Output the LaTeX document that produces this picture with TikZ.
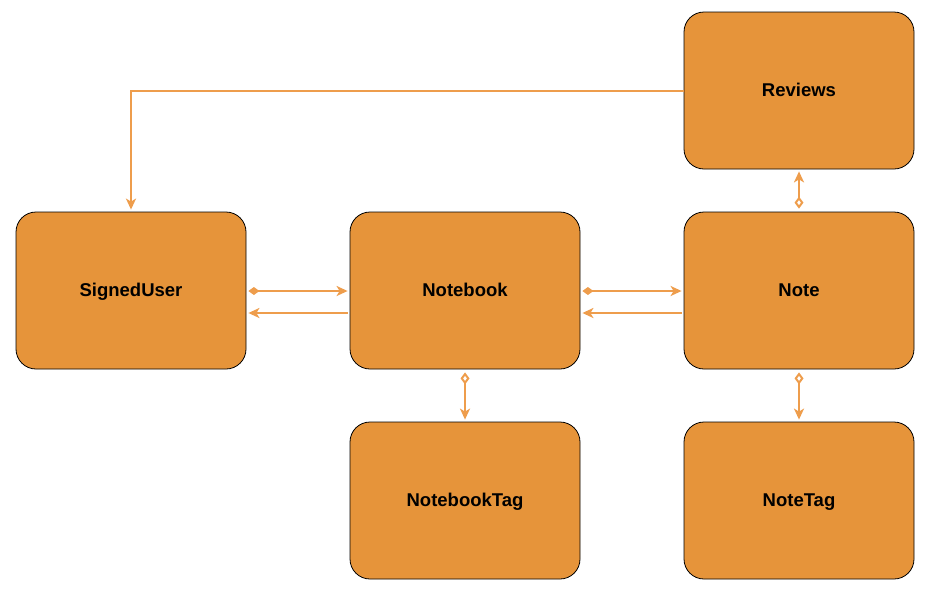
\documentclass[tikz,border=0pt]{standalone}
\usepackage{fontspec}
\setmainfont{Liberation Sans}
\usetikzlibrary{arrows.meta}
\definecolor{boxfill}{HTML}{E6943A}
\definecolor{linec}{HTML}{EE9D4C}
\begin{document}
\begin{tikzpicture}[x=1pt,y=-1pt,
  entity/.style={draw=black, line width=0.8pt, fill=boxfill, rounded corners=20pt,
    minimum width=230pt, minimum height=157pt, inner sep=0pt,
    text height=12.5pt, text depth=0pt,
    font=\fontsize{18.5}{22}\selectfont\bfseries},
  conn/.style={draw=linec, line width=2pt},
  tipA/.style={-{Stealth[length=11pt,width=10pt,inset=3pt]}},
  tipDA/.style={{Diamond[length=11pt,width=8pt]}-{Stealth[length=11pt,width=10pt,inset=3pt]}},
  tipOA/.style={{Diamond[open,length=12pt,width=9pt]}-{Stealth[length=11pt,width=10pt,inset=3pt]}}
]
\useasboundingbox (0,0) rectangle (949,603);
\node[entity] (signed) at (131,290.5) {SignedUser};
\node[entity] (notebook) at (465,290.5) {Notebook};
\node[entity] (note) at (799,290.5) {Note};
\node[entity] (reviews) at (799,90.5) {Reviews};
\node[entity] (nbtag) at (465,500.5) {NotebookTag};
\node[entity] (notetag) at (799,500.5) {NoteTag};

\draw[conn,tipDA] ([yshift=-0.5pt,xshift=2pt]signed.east) -- ([yshift=-0.5pt,xshift=-2pt]notebook.west);
\draw[conn,tipA] ([yshift=-22.5pt,xshift=-2pt]notebook.west) -- ([yshift=-22.5pt,xshift=2pt]signed.east);
\draw[conn,tipDA] ([yshift=-0.5pt,xshift=2pt]notebook.east) -- ([yshift=-0.5pt,xshift=-2pt]note.west);
\draw[conn,tipA] ([yshift=-22.5pt,xshift=-2pt]note.west) -- ([yshift=-22.5pt,xshift=2pt]notebook.east);
\draw[conn,tipOA] ([yshift=3pt]note.north) -- ([yshift=-2pt]reviews.south);
\draw[conn,tipOA] ([yshift=-3pt]notebook.south) -- ([yshift=2pt]nbtag.north);
\draw[conn,tipOA] ([yshift=-3pt]note.south) -- ([yshift=2pt]notetag.north);
\draw[conn,tipA] (reviews.west) -| ([yshift=2pt]signed.north);
\end{tikzpicture}
\end{document}
